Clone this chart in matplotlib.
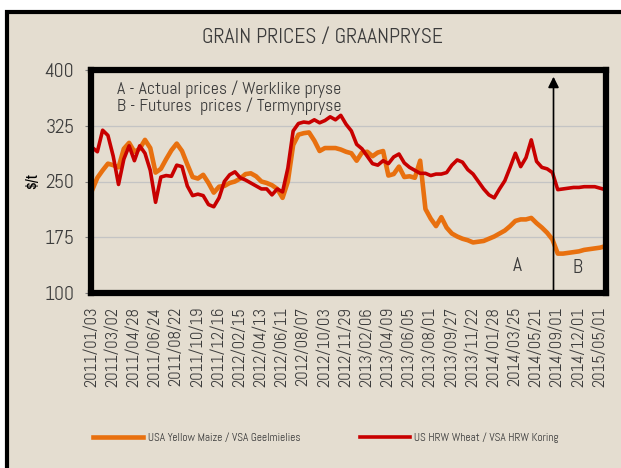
import matplotlib
matplotlib.use("Agg")
import matplotlib.pyplot as plt
from matplotlib.patches import Rectangle
import numpy as np

# category labels shown on the x axis (every 4th data point carries a label)
date_labels = [
    "2011/01/03", "2011/03/02", "2011/04/28", "2011/06/24", "2011/08/22",
    "2011/10/19", "2011/12/16", "2012/02/15", "2012/04/13", "2012/06/11",
    "2012/08/07", "2012/10/03", "2012/11/29", "2013/02/06", "2013/04/09",
    "2013/06/05", "2013/08/01", "2013/09/27", "2013/11/22", "2014/01/28",
    "2014/03/25", "2014/05/21", "2014/09/01", "2014/12/01", "2015/05/01",
]
points_per_label = 4

# USA yellow maize, $/t
maize = [
    238, 255, 265, 274, 272, 269, 294, 302, 290, 294,
    306, 295, 262, 267, 280, 292, 301, 291, 273, 256,
    254, 259, 248, 235, 243, 244, 248, 250, 254, 260,
    261, 257, 250, 248, 245, 240, 228, 250, 299, 313,
    315, 316, 305, 291, 295, 295, 295, 293, 290, 288,
    278, 289, 290, 284, 289, 291, 258, 260, 270, 256,
    257, 255, 278, 213, 200, 190, 202, 188, 180, 176,
    173, 171, 168, 169, 170, 173, 176, 180, 184, 190,
    197, 199, 199, 201, 194, 188, 181, 172, 153, 153,
    154, 155, 156, 158, 159, 160, 161, 163,
]

# US HRW wheat, $/t
wheat = [
    296, 290, 319, 312, 284, 246, 280, 298, 278, 298,
    288, 265, 222, 256, 258, 257, 272, 270, 244, 231,
    233, 231, 219, 216, 228, 250, 259, 263, 255, 252,
    248, 244, 240, 240, 232, 240, 236, 268, 318, 328,
    330, 329, 333, 329, 332, 337, 333, 339, 327, 318,
    300, 294, 284, 274, 272, 278, 274, 283, 287, 275,
    269, 265, 261, 261, 258, 260, 260, 262, 272, 279,
    276, 266, 260, 250, 240, 232, 228, 240, 251, 269,
    288, 270, 282, 306, 277, 269, 267, 262, 239, 240,
    241, 242, 242, 243, 243, 243, 241, 239,
]

split_pos = 21.8  # where actual prices end and futures start (label units)

plt.rcParams["font.family"] = ["Abel", "DejaVu Sans"]
text_col = "#3C3C3C"
bg = "#E4DDD0"

fig = plt.figure(figsize=(6.21, 4.68), dpi=100)
fig.patch.set_facecolor("white")
fig.add_artist(Rectangle((6.5 / 621, -0.2), 1.3, 1.2 - 11.5 / 468,
                         transform=fig.transFigure, facecolor=bg,
                         edgecolor="black", lw=3, zorder=0))

ax = fig.add_axes([91 / 621, 1 - 293 / 468, 515 / 621, 223 / 468])
ax.set_facecolor(bg)

x = np.arange(len(maize)) / points_per_label
ax.plot(x, maize, color="#E8700F", lw=3.3, solid_joinstyle="round",
        label="USA Yellow Maize / VSA Geelmielies", zorder=3)
ax.plot(x, wheat, color="#C80000", lw=2.6, solid_joinstyle="round",
        label="US HRW Wheat / VSA HRW Koring", zorder=4)

ax.set_ylim(100, 400)
ax.set_yticks([100, 175, 250, 325, 400])
ax.set_xlim(-0.05, 24.28)
ax.set_xticks(np.arange(len(date_labels)))
ax.set_xticklabels(date_labels, rotation=90, fontsize=12, color=text_col)
ax.tick_params(axis="x", length=0, pad=10)
ax.tick_params(axis="y", length=4, color="#808080", labelsize=14,
               labelcolor=text_col, pad=8)
for s in ax.spines.values():
    s.set_linewidth(4.5)
    s.set_color("black")
    s.set_zorder(6)
ax.grid(axis="y", color="#C4C4C4", lw=0.9)
ax.set_axisbelow(True)

# A / B split with arrow
ax.annotate("", xy=(split_pos, 391), xytext=(split_pos, 100),
            arrowprops=dict(arrowstyle="-|>", color="black", lw=1.2,
                            mutation_scale=16, shrinkA=0, shrinkB=0),
            zorder=5)
ax.text(20.1, 136, "A", fontsize=14, color=text_col, ha="center", va="center")
ax.text(22.95, 133, "B", fontsize=14, color=text_col, ha="center", va="center")
ax.text(1.2, 374, "A - Actual prices / Werklike pryse", fontsize=12.8,
        color=text_col, va="center")
ax.text(1.2, 351, "B - Futures  prices / Termynpryse", fontsize=12.8,
        color=text_col, va="center")

fig.text(322 / 621, 1 - 37 / 468, "GRAIN PRICES / GRAANPRYSE", fontsize=15.5,
         color=text_col, ha="center", va="center")
fig.text(33 / 621, 1 - 181 / 468, r"\$/t", fontsize=12.5, fontweight="bold",
         family=["Archivo Narrow", "DejaVu Sans"],
         color="black", rotation=90, ha="center", va="center")

handles, labels = ax.get_legend_handles_labels()
fig.legend(handles, labels, loc="center", bbox_to_anchor=(326 / 621, 1 - 438 / 468),
           ncol=2, frameon=False, fontsize=8.2, handlelength=4.4,
           columnspacing=5.2, labelcolor=text_col, handletextpad=0.4)

fig.savefig("out.png", dpi=100, facecolor=fig.get_facecolor())
